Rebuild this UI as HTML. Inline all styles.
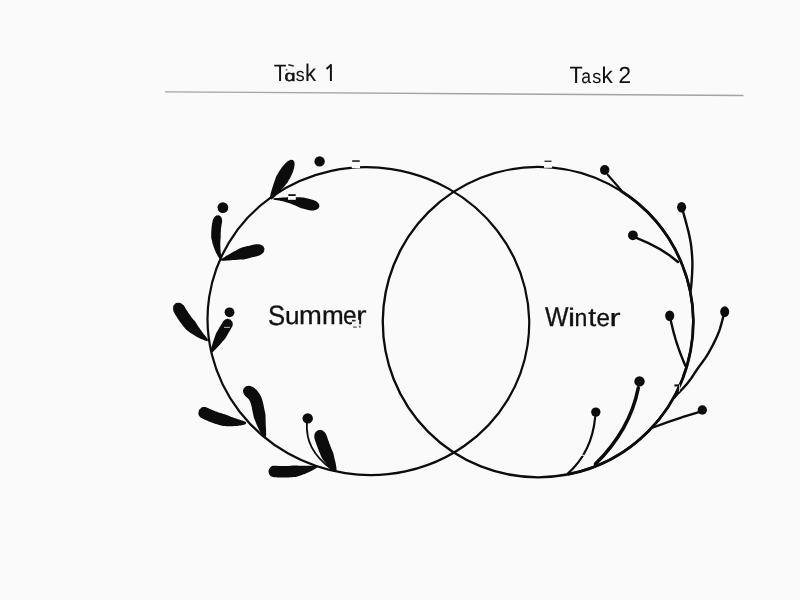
<!DOCTYPE html>
<html><head><meta charset="utf-8"><style>
html,body{margin:0;padding:0;background:#fafafa;width:800px;height:600px;overflow:hidden}
svg{display:block}
text{font-family:"Liberation Sans",sans-serif;fill:#111;stroke:#111;stroke-width:0.3px;text-rendering:geometricPrecision}
</style></head><body>
<svg width="800" height="600" viewBox="0 0 800 600">
<rect width="800" height="600" fill="#fafafa"/>
<line x1="165" y1="91.8" x2="743.5" y2="95.5" stroke="#a3a3a3" stroke-width="1.3"/>
<g class="t" opacity="0.995"><text transform="translate(273.74,80.70) scale(0.873,1)" font-size="23.69" style="stroke-width:0.05px">T</text><text transform="translate(284.47,80.65) scale(1.306,1)" font-size="15.15" style="stroke-width:0.5px">ɑ</text><text transform="translate(295.80,80.62) scale(0.944,1)" font-size="18.94" style="stroke-width:0.05px">s</text><text transform="translate(305.11,80.70) scale(0.934,1)" font-size="23.67" style="stroke-width:0.05px">k</text><text transform="translate(569.62,82.70) scale(0.911,1)" font-size="23.69" style="stroke-width:0.05px">T</text><text transform="translate(581.16,82.61) scale(0.881,1)" font-size="19.90" style="stroke-width:0.05px">a</text><text transform="translate(592.30,82.62) scale(0.956,1)" font-size="18.94" style="stroke-width:0.05px">s</text><text transform="translate(601.59,82.70) scale(0.975,1)" font-size="22.91" style="stroke-width:0.05px">k</text><text transform="translate(618.46,83.40) scale(0.969,1)" font-size="23.34" style="stroke-width:0.05px">2</text><text transform="translate(267.93,324.63) scale(0.919,1)" font-size="27.97">S</text><text transform="translate(285.00,324.41) scale(1.069,1)" font-size="24.44">u</text><text transform="translate(299.08,324.40) scale(1.061,1)" font-size="25.83">m</text><text transform="translate(321.97,324.40) scale(1.018,1)" font-size="25.65">m</text><text transform="translate(342.96,324.45) scale(0.959,1)" font-size="25.55">e</text><text transform="translate(356.00,324.40) scale(1.241,1)" font-size="25.46">r</text><text transform="translate(544.99,325.90) scale(0.911,1)" font-size="27.33">W</text><text transform="translate(567.97,325.90) scale(1.261,1)" font-size="25.25">i</text><text transform="translate(574.57,325.90) scale(0.940,1)" font-size="24.53">n</text><text transform="translate(588.17,325.90) scale(1.100,1)" font-size="25.98">t</text><text transform="translate(596.58,325.86) scale(0.985,1)" font-size="24.46">e</text><text transform="translate(609.40,325.90) scale(1.353,1)" font-size="24.53">r</text>
<path d="M326.5,68.9 L330.9,64.9 L330.9,81" fill="none" stroke="#111" stroke-width="2.0" stroke-linejoin="round"/>
</g>
<g fill="none" stroke="#0c0c0c">
<ellipse cx="368.37" cy="321.1" rx="161.0" ry="153.8" transform="rotate(8.66 368.37 321.1)" stroke-width="2.2"/>
<circle cx="538.0" cy="322.1" r="155.2" stroke-width="2.3"/>
<path d="M620.3,190.5 A155.2,155.2 0 0 1 568.0,474.4" stroke-width="2.75"/>
</g>
<g fill="#0c0c0c"><path d="M271.3,199.6 272.3,199.1 273.1,198.5 273.8,197.8 274.5,197.1 275.2,196.4 275.9,195.7 276.6,195.1 277.3,194.4 277.9,193.6 278.6,192.9 279.2,192.2 279.9,191.5 280.5,190.8 281.2,190.1 281.8,189.3 282.4,188.6 283.0,187.9 283.7,187.2 284.3,186.4 284.9,185.7 285.5,185.0 286.1,184.2 286.7,183.5 287.4,182.8 287.8,182.0 288.3,181.1 288.8,180.3 289.2,179.5 289.7,178.7 290.1,177.9 290.6,177.0 291.0,176.2 291.4,175.3 291.8,174.5 292.2,173.6 292.6,172.7 292.9,171.9 293.2,171.0 293.5,170.0 293.8,169.1 294.0,168.2 294.2,167.2 294.4,166.2 294.5,165.2 294.6,164.2 294.5,163.0 294.3,161.8 293.0,160.0 293.0,160.0 290.8,159.8 289.6,160.2 288.6,160.7 287.7,161.3 286.9,161.9 286.2,162.6 285.4,163.3 284.8,164.0 284.1,164.7 283.5,165.4 282.8,166.1 282.2,166.9 281.7,167.6 281.1,168.4 280.6,169.2 280.1,169.9 279.5,170.7 279.1,171.5 278.6,172.3 278.1,173.2 277.6,174.0 277.2,174.8 276.7,175.6 276.2,176.4 275.9,177.3 275.6,178.2 275.3,179.1 275.0,180.0 274.6,180.9 274.3,181.8 274.0,182.7 273.7,183.6 273.4,184.6 273.1,185.5 272.8,186.4 272.5,187.3 272.2,188.2 271.9,189.1 271.7,190.1 271.4,191.0 271.1,191.9 270.9,192.9 270.6,193.8 270.4,194.7 270.2,195.7 270.0,196.7 269.8,197.7 269.9,198.8Z"/><path d="M221.4,258.7 221.4,257.7 221.3,256.7 221.2,255.8 221.0,254.8 220.9,253.9 220.8,253.0 220.7,252.1 220.6,251.1 220.6,250.2 220.5,249.3 220.4,248.4 220.4,247.5 220.4,246.6 220.3,245.7 220.3,244.8 220.3,244.0 220.3,243.1 220.4,242.2 220.4,241.3 220.4,240.5 220.5,239.6 220.6,238.8 220.6,237.9 220.7,237.1 220.7,236.2 220.7,235.4 220.7,234.5 220.7,233.7 220.7,232.8 220.8,232.0 220.8,231.2 220.9,230.3 220.9,229.5 221.0,228.6 221.1,227.8 221.2,226.9 221.4,226.1 221.5,225.2 221.6,224.3 221.8,223.5 222.0,222.6 222.1,221.8 222.1,220.9 222.1,219.9 221.9,219.0 221.6,217.9 221.0,216.8 219.0,215.2 219.0,215.2 216.4,215.4 215.3,216.2 214.5,217.0 213.8,217.9 213.3,218.8 213.0,219.7 212.7,220.7 212.5,221.7 212.3,222.7 212.1,223.6 212.0,224.6 211.8,225.6 211.7,226.6 211.6,227.6 211.5,228.6 211.4,229.6 211.3,230.5 211.3,231.5 211.2,232.5 211.2,233.5 211.2,234.5 211.2,235.5 211.2,236.5 211.2,237.4 211.4,238.4 211.6,239.4 211.8,240.3 212.1,241.3 212.3,242.3 212.5,243.2 212.8,244.2 213.1,245.1 213.4,246.0 213.7,247.0 214.0,247.9 214.4,248.8 214.7,249.7 215.1,250.6 215.5,251.5 215.9,252.4 216.3,253.3 216.8,254.2 217.3,255.1 217.7,256.0 218.2,256.8 218.8,257.7 219.3,258.5 220.0,259.3Z"/><path d="M221.6,260.9 222.5,260.8 223.5,260.8 224.5,260.7 225.4,260.7 226.4,260.6 227.3,260.5 228.3,260.4 229.2,260.4 230.2,260.3 231.1,260.2 232.1,260.1 233.0,260.1 233.9,260.0 234.9,259.9 235.8,259.9 236.8,259.8 237.7,259.7 238.6,259.7 239.6,259.6 240.5,259.6 241.5,259.5 242.4,259.5 243.3,259.4 244.3,259.4 245.1,259.1 246.0,258.9 246.9,258.7 247.8,258.4 248.7,258.2 249.6,258.0 250.5,257.8 251.3,257.5 252.2,257.3 253.1,257.1 254.0,256.9 254.9,256.7 255.8,256.5 256.7,256.3 257.6,256.1 258.5,255.8 259.3,255.5 260.2,255.1 261.0,254.6 261.8,254.0 262.6,253.3 263.4,252.5 264.1,251.3 264.5,248.5 264.5,248.5 263.1,246.1 261.9,245.3 260.9,244.8 259.8,244.5 258.8,244.3 257.8,244.2 256.9,244.2 255.9,244.2 255.0,244.4 254.0,244.6 253.1,244.8 252.2,245.0 251.3,245.2 250.3,245.4 249.4,245.7 248.5,245.9 247.6,246.1 246.7,246.3 245.7,246.6 244.8,246.8 243.9,247.0 243.0,247.3 242.1,247.5 241.1,247.8 240.3,248.2 239.4,248.6 238.6,249.1 237.7,249.5 236.8,250.0 236.0,250.4 235.1,250.9 234.3,251.3 233.4,251.8 232.6,252.3 231.7,252.7 230.9,253.2 230.1,253.7 229.2,254.2 228.4,254.7 227.6,255.2 226.7,255.6 225.9,256.1 225.1,256.7 224.3,257.2 223.4,257.7 222.6,258.2 221.8,258.8 221.0,259.3Z"/><path d="M208.2,339.8 207.6,338.9 207.0,338.0 206.3,337.2 205.6,336.3 205.0,335.5 204.3,334.7 203.7,333.9 203.0,333.0 202.4,332.2 201.8,331.4 201.2,330.6 200.6,329.8 200.0,329.0 199.4,328.1 198.8,327.3 198.3,326.5 197.7,325.7 197.2,324.8 196.7,324.0 196.2,323.2 195.7,322.3 195.1,321.5 194.5,320.8 193.9,320.1 193.2,319.4 192.6,318.6 192.0,317.9 191.4,317.1 190.9,316.4 190.3,315.6 189.7,314.8 189.2,314.0 188.6,313.3 188.1,312.5 187.6,311.6 187.1,310.8 186.5,310.0 186.0,309.2 185.5,308.4 185.1,307.5 184.6,306.7 184.0,305.8 183.4,305.1 182.6,304.4 181.7,303.7 180.6,303.1 179.2,302.7 176.0,303.0 176.0,303.0 173.7,305.3 173.2,306.7 173.0,308.0 173.1,309.3 173.3,310.4 173.6,311.5 174.1,312.5 174.6,313.5 175.2,314.4 175.8,315.4 176.3,316.3 176.9,317.3 177.5,318.2 178.1,319.1 178.7,320.0 179.3,320.9 180.0,321.8 180.6,322.7 181.3,323.6 181.9,324.5 182.6,325.3 183.3,326.2 184.0,327.0 184.7,327.9 185.4,328.7 186.1,329.5 187.0,330.2 187.8,330.9 188.7,331.6 189.6,332.2 190.5,332.9 191.4,333.5 192.4,334.1 193.3,334.7 194.2,335.3 195.2,335.8 196.1,336.4 197.1,336.9 198.1,337.4 199.1,337.9 200.0,338.4 201.0,338.9 202.0,339.3 203.1,339.8 204.1,340.2 205.1,340.6 206.2,340.9 207.4,341.2Z"/><path d="M211.7,352.8 212.4,352.3 213.0,351.7 213.6,351.2 214.2,350.6 214.8,350.0 215.4,349.4 215.9,348.8 216.5,348.3 217.1,347.7 217.6,347.1 218.2,346.5 218.7,345.9 219.3,345.3 219.8,344.7 220.4,344.1 220.9,343.5 221.4,342.9 222.0,342.3 222.5,341.6 223.0,341.0 223.6,340.4 224.1,339.8 224.6,339.2 225.2,338.6 225.6,337.9 226.0,337.2 226.4,336.6 226.8,335.9 227.2,335.2 227.6,334.5 228.0,333.8 228.4,333.1 228.8,332.4 229.2,331.8 229.6,331.1 230.0,330.4 230.4,329.7 230.8,329.0 231.2,328.3 231.6,327.6 232.0,327.0 232.4,326.2 232.6,325.5 232.7,324.6 232.8,323.7 232.6,322.7 232.2,321.5 230.3,319.5 230.3,319.5 227.6,318.8 226.4,319.0 225.4,319.4 224.6,319.9 224.0,320.4 223.4,321.0 223.0,321.6 222.6,322.3 222.2,323.0 221.8,323.7 221.3,324.4 220.9,325.1 220.5,325.8 220.1,326.4 219.7,327.1 219.3,327.8 218.9,328.5 218.5,329.2 218.1,329.9 217.7,330.6 217.3,331.2 216.9,331.9 216.5,332.6 216.1,333.3 215.8,334.1 215.6,334.8 215.3,335.6 215.0,336.3 214.8,337.1 214.5,337.9 214.2,338.6 214.0,339.4 213.7,340.2 213.4,340.9 213.2,341.7 212.9,342.5 212.7,343.2 212.4,344.0 212.2,344.8 211.9,345.6 211.7,346.4 211.5,347.1 211.2,347.9 211.0,348.7 210.8,349.5 210.6,350.3 210.4,351.1 210.3,352.0Z"/><path d="M246.0,422.2 245.0,421.6 244.0,421.2 243.0,420.8 242.0,420.5 241.0,420.2 240.0,419.8 239.0,419.5 238.0,419.2 237.1,418.9 236.1,418.6 235.1,418.2 234.2,417.9 233.3,417.6 232.3,417.2 231.4,416.9 230.5,416.5 229.6,416.2 228.7,415.8 227.8,415.4 226.9,415.1 226.0,414.7 225.1,414.4 224.1,414.1 223.2,413.9 222.3,413.6 221.4,413.3 220.5,413.1 219.6,412.8 218.7,412.5 217.8,412.2 216.9,411.8 216.0,411.5 215.1,411.2 214.2,410.8 213.3,410.5 212.4,410.1 211.5,409.7 210.6,409.3 209.8,408.9 208.9,408.5 208.0,408.1 207.1,407.7 206.2,407.3 205.3,407.0 204.2,407.0 203.0,407.1 201.5,407.6 199.0,410.0 199.0,410.0 198.3,413.4 198.7,414.9 199.3,416.1 200.0,417.0 200.9,417.7 201.9,418.2 202.9,418.7 203.8,419.2 204.8,419.7 205.8,420.1 206.8,420.5 207.8,421.0 208.8,421.4 209.8,421.8 210.8,422.2 211.9,422.6 212.9,423.0 213.9,423.3 214.9,423.7 215.9,424.0 217.0,424.3 218.0,424.6 219.0,424.9 220.1,425.2 221.1,425.5 222.2,425.8 223.2,426.0 224.3,426.0 225.4,426.1 226.5,426.2 227.6,426.2 228.7,426.2 229.8,426.2 230.9,426.2 231.9,426.2 233.0,426.2 234.1,426.1 235.2,426.1 236.3,426.0 237.4,425.9 238.5,425.7 239.5,425.6 240.6,425.4 241.7,425.2 242.8,425.0 243.8,424.7 244.9,424.4 246.0,423.8Z"/><path d="M316.8,465.8 315.7,465.7 314.6,465.7 313.5,465.7 312.5,465.8 311.4,465.8 310.4,465.8 309.4,465.8 308.3,465.8 307.3,465.8 306.3,465.8 305.3,465.8 304.3,465.8 303.3,465.8 302.3,465.8 301.3,465.8 300.3,465.7 299.3,465.7 298.3,465.7 297.3,465.6 296.3,465.5 295.3,465.5 294.4,465.5 293.4,465.6 292.4,465.6 291.5,465.7 290.5,465.8 289.6,465.9 288.6,465.9 287.6,465.9 286.7,466.0 285.7,466.0 284.7,466.0 283.8,466.0 282.8,466.0 281.8,466.0 280.9,466.0 279.9,466.0 278.9,465.9 277.9,465.9 277.0,465.8 276.0,465.8 275.0,465.7 274.0,465.7 273.0,465.8 272.0,466.1 271.0,466.7 269.8,467.7 268.4,470.8 268.4,470.8 269.0,474.1 270.0,475.4 271.0,476.2 272.0,476.7 273.1,477.0 274.1,477.2 275.2,477.3 276.3,477.3 277.4,477.4 278.4,477.4 279.5,477.5 280.6,477.5 281.7,477.5 282.7,477.5 283.8,477.5 284.9,477.5 286.0,477.5 287.0,477.5 288.1,477.4 289.2,477.4 290.2,477.3 291.3,477.3 292.4,477.2 293.4,477.1 294.5,477.0 295.6,476.9 296.6,476.7 297.6,476.4 298.7,476.0 299.7,475.7 300.7,475.4 301.8,475.0 302.8,474.6 303.8,474.3 304.8,473.9 305.8,473.5 306.8,473.1 307.8,472.6 308.7,472.2 309.7,471.7 310.7,471.3 311.7,470.8 312.6,470.3 313.6,469.8 314.5,469.2 315.4,468.7 316.4,468.1 317.2,467.4Z"/><path d="M336.2,471.1 336.6,469.8 336.5,468.8 336.4,467.8 336.3,466.8 336.1,465.9 336.0,464.9 335.8,464.0 335.6,463.0 335.4,462.1 335.2,461.2 335.0,460.3 334.7,459.4 334.5,458.5 334.3,457.5 334.1,456.6 333.9,455.7 333.7,454.8 333.5,453.9 333.3,453.0 332.9,452.2 332.6,451.4 332.2,450.5 331.9,449.7 331.5,448.9 331.2,448.0 330.8,447.2 330.5,446.3 330.2,445.5 329.9,444.7 329.5,443.8 329.2,443.0 328.9,442.1 328.6,441.3 328.3,440.4 328.0,439.6 327.7,438.7 327.4,437.8 327.1,437.0 326.8,436.1 326.5,435.3 326.1,434.4 325.7,433.6 325.1,432.8 324.5,432.1 323.7,431.4 322.8,430.7 321.5,430.1 318.4,430.0 318.4,430.0 315.9,431.7 315.1,432.9 314.6,434.1 314.4,435.1 314.3,436.2 314.3,437.2 314.4,438.2 314.7,439.1 314.9,440.0 315.2,441.0 315.6,441.9 315.9,442.8 316.2,443.7 316.5,444.6 316.8,445.5 317.2,446.4 317.5,447.3 317.8,448.2 318.2,449.1 318.5,450.0 318.9,450.9 319.2,451.8 319.6,452.7 320.0,453.6 320.3,454.5 320.7,455.4 321.1,456.3 321.5,457.2 321.9,458.1 322.4,458.9 323.0,459.7 323.6,460.5 324.1,461.3 324.7,462.1 325.3,462.8 325.9,463.6 326.5,464.4 327.1,465.2 327.8,465.9 328.4,466.7 329.0,467.4 329.7,468.1 330.4,468.9 331.1,469.6 331.9,470.2 332.7,470.9 333.5,471.5 334.8,471.9Z"/><path d="M273.5,199.8 273.9,199.8 274.4,199.9 274.9,200.0 275.5,200.0 276.2,200.1 277.0,200.2 277.7,200.3 278.5,200.5 279.3,200.6 280.1,200.8 281.0,200.9 281.8,201.1 282.6,201.3 283.4,201.4 284.1,201.6 284.8,201.8 285.4,202.0 286.1,202.2 286.8,202.4 287.4,202.6 288.1,202.9 288.8,203.1 289.5,203.3 290.1,203.6 290.8,203.8 291.4,204.1 292.1,204.3 292.7,204.6 293.3,204.8 294.0,205.1 294.6,205.3 295.2,205.6 295.8,205.8 296.3,206.0 296.9,206.3 297.4,206.5 297.9,206.8 298.5,207.0 299.0,207.3 299.5,207.5 300.0,207.8 300.5,208.0 301.1,208.2 301.6,208.3 302.1,208.5 302.7,208.6 303.2,208.7 303.7,208.8 304.2,209.0 304.6,209.1 305.1,209.2 305.5,209.3 305.9,209.4 306.4,209.5 306.8,209.6 307.2,209.7 307.7,209.9 308.1,210.0 308.6,210.1 309.0,210.2 309.5,210.3 310.0,210.4 310.5,210.4 311.0,210.5 311.6,210.5 312.1,210.5 312.7,210.5 313.3,210.5 313.9,210.4 314.5,210.3 315.0,210.1 315.6,210.0 316.2,209.8 316.7,209.5 317.2,209.2 317.7,208.9 318.2,208.5 318.6,208.0 319.0,207.5 319.4,206.2 319.4,206.2 319.3,204.9 319.1,204.2 318.7,203.7 318.4,203.2 318.0,202.8 317.6,202.4 317.1,202.0 316.7,201.6 316.2,201.3 315.7,201.1 315.2,200.8 314.7,200.6 314.2,200.4 313.8,200.2 313.4,200.0 313.0,199.9 312.6,199.8 312.3,199.7 311.9,199.6 311.5,199.5 311.1,199.4 310.8,199.3 310.4,199.2 310.0,199.1 309.6,199.0 309.1,198.9 308.7,198.8 308.3,198.6 307.8,198.5 307.3,198.4 306.8,198.3 306.3,198.2 305.8,198.0 305.3,197.9 304.8,197.8 304.3,197.7 303.7,197.5 303.2,197.4 302.6,197.4 302.0,197.4 301.4,197.4 300.7,197.3 300.1,197.3 299.5,197.3 298.8,197.3 298.2,197.3 297.5,197.3 296.8,197.2 296.2,197.2 295.5,197.2 294.8,197.2 294.1,197.2 293.4,197.2 292.7,197.2 291.9,197.2 291.2,197.3 290.5,197.3 289.7,197.3 289.0,197.3 288.2,197.3 287.5,197.3 286.7,197.3 286.0,197.4 285.2,197.4 284.5,197.4 283.7,197.5 282.8,197.5 282.0,197.6 281.1,197.7 280.3,197.8 279.4,197.8 278.6,197.9 277.8,198.0 277.0,198.0 276.3,198.1 275.6,198.1 275.0,198.2 274.4,198.2 273.9,198.2 273.5,198.2Z"/><path d="M265.8,437.3 266.0,436.7 266.1,436.2 266.1,435.5 266.1,434.7 266.2,433.9 266.1,433.1 266.1,432.2 266.1,431.3 266.1,430.3 266.0,429.4 266.0,428.4 265.9,427.5 265.9,426.6 265.8,425.7 265.8,424.8 265.7,424.0 265.7,423.2 265.7,422.4 265.7,421.5 265.6,420.7 265.6,419.9 265.6,419.0 265.6,418.2 265.5,417.3 265.5,416.5 265.5,415.6 265.5,414.8 265.3,414.0 265.2,413.1 265.0,412.3 264.8,411.5 264.7,410.8 264.5,410.0 264.4,409.3 264.2,408.6 264.1,407.9 264.0,407.2 263.8,406.4 263.7,405.7 263.5,404.9 263.4,404.2 263.2,403.4 263.0,402.7 262.9,401.9 262.7,401.2 262.4,400.4 262.2,399.6 261.9,398.9 261.7,398.2 261.4,397.6 261.2,397.0 260.9,396.4 260.6,395.8 260.3,395.2 260.0,394.6 259.6,394.1 259.3,393.5 258.9,392.9 258.5,392.4 258.1,391.9 257.7,391.3 257.2,390.8 256.8,390.3 256.3,389.8 255.6,389.2 255.0,388.6 254.3,388.0 253.6,387.5 252.9,387.1 252.2,386.7 251.4,386.4 250.6,386.1 249.8,385.9 249.0,385.8 248.2,385.8 247.4,385.9 246.7,386.1 245.9,386.4 245.1,386.9 243.8,388.2 243.8,388.2 243.1,389.9 243.0,390.8 243.1,391.7 243.3,392.5 243.5,393.2 243.9,394.0 244.2,394.6 244.6,395.2 245.1,395.8 245.5,396.3 246.0,396.7 246.4,397.1 246.9,397.5 247.2,397.8 247.5,398.0 247.7,398.2 248.0,398.5 248.2,398.8 248.5,399.0 248.7,399.3 248.9,399.5 249.1,399.8 249.2,400.0 249.4,400.3 249.5,400.6 249.7,400.8 249.8,401.1 250.0,401.5 250.2,401.8 250.3,402.2 250.5,402.7 250.7,403.1 250.8,403.5 251.0,403.9 251.1,404.4 251.2,404.9 251.4,405.5 251.5,406.0 251.6,406.7 251.8,407.3 251.9,408.0 252.0,408.7 252.2,409.4 252.3,410.1 252.5,410.9 252.6,411.7 252.8,412.5 252.9,413.2 253.1,414.0 253.2,414.7 253.4,415.5 253.6,416.3 253.7,417.1 254.0,417.9 254.3,418.7 254.6,419.5 254.9,420.3 255.3,421.1 255.6,421.9 255.9,422.8 256.2,423.6 256.6,424.4 256.9,425.2 257.3,426.0 257.6,426.8 258.0,427.7 258.5,428.5 258.9,429.4 259.3,430.3 259.8,431.2 260.3,432.0 260.7,432.8 261.2,433.6 261.7,434.4 262.1,435.1 262.6,435.8 263.0,436.4 263.4,436.9 263.8,437.4 264.2,437.7Z"/></g>
<g fill="none" stroke="#0c0c0c" stroke-linecap="round"><path d="M306.9,423 C306,440 312,455 332,469.5" stroke-width="1.8"/><path d="M607.7,174.7 L621,190" stroke-width="2.1"/><path d="M636.4,237.9 Q662,248 678,262" stroke-width="2.5"/><path d="M670.8,320.8 Q676,345 685.5,366" stroke-width="2.4"/><path d="M698.1,412.3 Q672,420 653,427.5" stroke-width="2.4"/><path d="M638.3,387.8 Q630,430 595.4,464" stroke-width="3.5"/><path d="M595.2,417 Q592,452 567.8,473.6" stroke-width="2.2"/><path d="M682.80,211.50 L682.86,211.65 L682.92,211.80 L683.00,211.96 L683.09,212.18 L683.21,212.48 L683.35,212.89 L683.53,213.46 L683.75,214.20 L684.03,215.17 L684.36,216.35 L684.73,217.69 L685.13,219.14 L685.54,220.65 L685.95,222.17 L686.34,223.63 L686.70,225.00 L687.04,226.28 L687.37,227.52 L687.69,228.73 L688.01,229.94 L688.32,231.16 L688.62,232.40 L688.91,233.67 L689.20,235.00 L689.48,236.35 L689.77,237.69 L690.04,239.05 L690.31,240.44 L690.57,241.88 L690.81,243.39 L691.04,244.99 L691.25,246.70 L691.45,248.53 L691.65,250.46 L691.83,252.49 L692.00,254.58 L692.15,256.73 L692.27,258.91 L692.36,261.11 L692.40,263.30 L692.39,265.58 L692.34,268.01 L692.25,270.51 L692.13,273.02 L691.99,275.46 L691.85,277.77 L691.72,279.87 L691.60,281.70 L691.49,283.28 L691.36,284.68 L691.23,285.92 L691.10,287.00 L690.98,287.94 L690.86,288.75 L690.77,289.43 L690.70,290.00" stroke-width="2.4"/><path d="M723.60,315.50 L723.22,316.86 L722.76,318.65 L722.21,320.77 L721.57,323.15 L720.86,325.68 L720.08,328.28 L719.22,330.85 L718.30,333.30 L717.29,335.72 L716.17,338.22 L714.96,340.78 L713.69,343.37 L712.37,345.95 L711.02,348.48 L709.66,350.94 L708.30,353.30 L706.89,355.59 L705.40,357.86 L703.85,360.10 L702.29,362.28 L700.76,364.37 L699.29,366.37 L697.93,368.26 L696.70,370.00 L695.62,371.59 L694.67,373.03 L693.81,374.35 L693.02,375.57 L692.26,376.73 L691.53,377.83 L690.78,378.92 L690.00,380.00 L689.20,381.06 L688.41,382.07 L687.62,383.04 L686.85,383.97 L686.07,384.87 L685.30,385.75 L684.53,386.63 L683.75,387.50 L682.95,388.38 L682.11,389.27 L681.26,390.14 L680.42,391.00 L679.61,391.83 L678.83,392.61 L678.13,393.34 L677.50,394.00 L676.95,394.60 L676.45,395.17 L676.01,395.69 L675.61,396.16 L675.26,396.58 L674.96,396.94 L674.71,397.25 L674.50,397.50" stroke-width="2.4"/></g>
<g fill="#0c0c0c"><ellipse cx="319.6" cy="161.4" rx="5.2" ry="5.2"/><ellipse cx="222.9" cy="207.6" rx="5.4" ry="5.4"/><ellipse cx="229.5" cy="312.3" rx="4.9" ry="4.9"/><ellipse cx="307.7" cy="418.4" rx="5.2" ry="5.2"/><ellipse cx="604.7" cy="170.0" rx="4.7" ry="5.0"/><ellipse cx="681.6" cy="207.3" rx="4.5" ry="5.2"/><ellipse cx="632.9" cy="235.3" rx="4.9" ry="4.9"/><ellipse cx="669.7" cy="315.8" rx="4.6" ry="5.2"/><ellipse cx="724.7" cy="311.7" rx="4.5" ry="5.4"/><ellipse cx="702.3" cy="410.0" rx="4.7" ry="4.7"/><ellipse cx="639.5" cy="381.4" rx="5.2" ry="5.2"/><ellipse cx="595.8" cy="412.1" rx="4.7" ry="4.7"/></g>
<g>
<rect x="351.7" y="162.7" width="8.3" height="5.5" fill="#fdfdfd"/>
<rect x="352.2" y="160.3" width="7.5" height="1.5" fill="#111"/>
<rect x="544" y="163" width="8" height="4.8" fill="#fdfdfd"/>
<rect x="544.5" y="160.6" width="7" height="1.3" fill="#222"/>
<rect x="288" y="195.8" width="7.8" height="4" fill="#fdfdfd"/>
<rect x="288.3" y="194.2" width="7.4" height="1.8" fill="#111"/>
<rect x="352" y="319.8" width="7.2" height="7.2" fill="#f2f2f2"/>
<rect x="352" y="319.8" width="3.5" height="1.6" fill="#222"/>
<rect x="353" y="326.6" width="3.8" height="1" fill="#333"/>
<rect x="359.2" y="325.7" width="1.3" height="1.9" fill="#333"/>
<rect x="224" y="326.9" width="6" height="0.7" fill="#fdfdfd"/>
<rect x="580" y="454.8" width="4.5" height="1" fill="#fdfdfd"/>
<rect x="674.4" y="384.4" width="5" height="2.1" fill="#111"/>
<rect x="679.2" y="384.5" width="0.8" height="7" fill="#f0f0f0"/>
<path d="M288.3,64.8 L293.8,66.0" stroke="#222" stroke-width="1.5" fill="none"/><rect x="285.6" y="69.2" width="2" height="1.2" fill="#555"/>
</g>
</svg>
</body></html>
